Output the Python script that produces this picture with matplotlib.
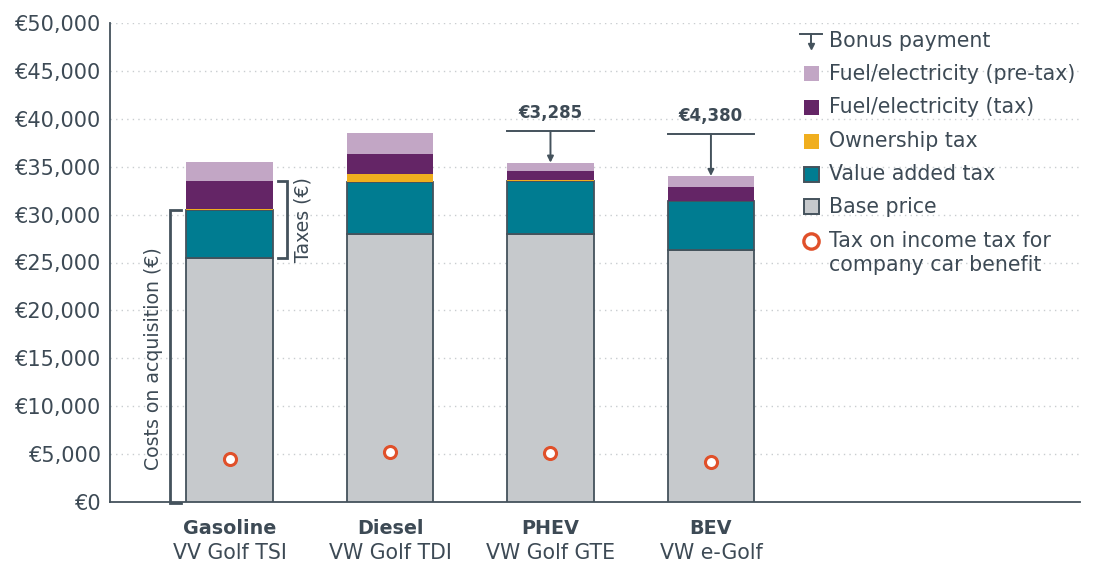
import matplotlib
matplotlib.use("Agg")
import matplotlib.pyplot as plt
from matplotlib.patches import Rectangle
from matplotlib.lines import Line2D
import numpy as np

categories = ["Gasoline", "Diesel", "PHEV", "BEV"]
models = ["VV Golf TSI", "VW Golf TDI", "VW Golf GTE", "VW e-Golf"]
base_price = [25470, 27970, 28010, 26270]
vat = [5010, 5430, 5500, 5150]
ownership_tax = [70, 840, 100, 0]
fuel_tax = [2960, 2090, 940, 1460]
fuel_pretax = [1980, 2190, 870, 1150]
bonus = [0, 0, 3285, 4380]
income_tax = [4490, 5220, 5110, 4180]
yticks = [0, 5000, 10000, 15000, 20000, 25000, 30000, 35000, 40000, 45000, 50000]

TXT = "#3d4a55"
C_PRE = "#c2a6c5"
C_FTAX = "#642566"
C_OWN = "#f0ae1e"
C_VAT = "#007c91"
C_BASE = "#c6c9cc"
C_EDGE = "#44525c"
C_RED = "#e0502a"

plt.rcParams['font.family'] = ['DejaVu Sans']
FS_TICK = 15
FS_LEG = 14.8
FS_CAT = 13.8
FS_MOD = 14.8
FS_ROT = 13.6

W, H = 1099, 564
fig = plt.figure(figsize=(W / 100, H / 100), dpi=100)
ax = fig.add_axes([110 / W, 1 - 502 / H, (1080 - 110) / W, (502 - 23) / H])

x = np.arange(len(categories))
bw = 0.54
b0 = np.zeros(len(x))
ax.bar(x, base_price, bw, bottom=b0, color=C_BASE, edgecolor=C_EDGE, linewidth=1.3, zorder=3)
b1 = b0 + np.array(base_price)
ax.bar(x, vat, bw, bottom=b1, color=C_VAT, edgecolor=C_EDGE, linewidth=1.3, zorder=3)
b2 = b1 + np.array(vat)
ax.bar(x, ownership_tax, bw, bottom=b2, color=C_OWN, linewidth=0, zorder=3)
b3 = b2 + np.array(ownership_tax)
ax.bar(x, fuel_tax, bw, bottom=b3, color=C_FTAX, linewidth=0, zorder=3)
b4 = b3 + np.array(fuel_tax)
ax.bar(x, fuel_pretax, bw, bottom=b4, color=C_PRE, linewidth=0, zorder=3)
top = b4 + np.array(fuel_pretax)

ax.scatter(x, income_tax, s=75, facecolor="white", edgecolor=C_RED, linewidth=2.2, zorder=5)

# bonus payments
for i, bval in enumerate(bonus):
    if bval > 0:
        yl = top[i] + bval
        ax.plot([x[i] - bw / 2, x[i] + bw / 2], [yl, yl], color=C_EDGE, lw=1.4, zorder=4, clip_on=False)
        ax.annotate("", xy=(x[i], top[i]), xytext=(x[i], yl),
                    arrowprops=dict(arrowstyle="-|>", color=C_EDGE, lw=1.4,
                                    mutation_scale=9, shrinkA=0, shrinkB=0), zorder=4)
        ax.text(x[i], yl + 1900, f"€{bval:,}", ha="center", va="center",
                fontsize=12, fontweight="bold", color=TXT)

ax.set_xlim(-0.745, 5.30)
ax.set_ylim(0, 50000)
ax.set_yticks(yticks)
ax.set_yticklabels([f"€{v:,}" for v in yticks], fontsize=FS_TICK, color=TXT)
ax.tick_params(axis="y", length=0, pad=6)
ax.set_xticks([])
for v in yticks[1:]:
    ax.axhline(v, color="#c9cdd0", lw=1.0, ls=(0, (1, 3)), zorder=0)
for s in ["top", "right"]:
    ax.spines[s].set_visible(False)
for s in ["left", "bottom"]:
    ax.spines[s].set_color(C_EDGE)
    ax.spines[s].set_linewidth(1.3)

# category labels
for i in range(len(categories)):
    ax.text(x[i], -2750, categories[i], ha="center", va="center", fontsize=FS_CAT,
            fontweight="bold", color=TXT, clip_on=False)
    ax.text(x[i], -5350, models[i], ha="center", va="center", fontsize=FS_MOD,
            color=TXT, clip_on=False)

# brackets
def bracket(xv, xt, y0, y1):
    ax.plot([xt, xv, xv, xt], [y0, y0, y1, y1], color=C_EDGE, lw=2.0,
            solid_joinstyle="miter", clip_on=False, zorder=4)

bracket(-0.371, -0.30, -150, b2[0])
ax.text(-0.475, 15000, "Costs on acquisition (€)", rotation=90, ha="center", va="center",
        fontsize=FS_ROT, color=TXT)
bracket(0.356, 0.30, b1[0], b3[0] + fuel_tax[0])
ax.text(0.455, (b1[0] + b4[0]) / 2, "Taxes (€)", rotation=90, ha="center", va="center",
        fontsize=FS_ROT, color=TXT)

# legend (manual)
def fx(px):
    return px / W

def fy(py):
    return 1 - py / H

lx_h = 811
lx_t = 829
# bonus icon
fig.add_artist(Line2D([fx(800), fx(822)], [fy(34), fy(34)], color=C_EDGE, lw=1.4))
fig.add_artist(Line2D([fx(811), fx(811)], [fy(34), fy(44)], color=C_EDGE, lw=1.4))
fig.add_artist(Line2D([fx(811)], [fy(46)], marker="v", markersize=4, color=C_EDGE, lw=0))
fig.text(fx(lx_t), fy(41), "Bonus payment", fontsize=FS_LEG, color=TXT, va="center")

items = [("Fuel/electricity (pre-tax)", C_PRE, None, 74),
         ("Fuel/electricity (tax)", C_FTAX, None, 107),
         ("Ownership tax", C_OWN, None, 141),
         ("Value added tax", C_VAT, C_EDGE, 174),
         ("Base price", C_BASE, C_EDGE, 207)]
for lab, col, ec, py in items:
    sz = 15
    fig.add_artist(Rectangle((fx(lx_h - sz / 2), fy(py + sz / 2)), sz / W, sz / H,
                             facecolor=col, edgecolor=ec if ec else "none",
                             linewidth=1.4 if ec else 0, transform=fig.transFigure))
    fig.text(fx(lx_t), fy(py), lab, fontsize=FS_LEG, color=TXT, va="center")

fig.add_artist(Line2D([fx(811)], [fy(241)], marker="o", markersize=11, markerfacecolor="white",
                      markeredgecolor=C_RED, markeredgewidth=2.4, lw=0))
fig.text(fx(lx_t), fy(241), "Tax on income tax for", fontsize=FS_LEG, color=TXT, va="center")
fig.text(fx(lx_t), fy(265), "company car benefit", fontsize=FS_LEG, color=TXT, va="center")

fig.savefig("out.png", dpi=100)
